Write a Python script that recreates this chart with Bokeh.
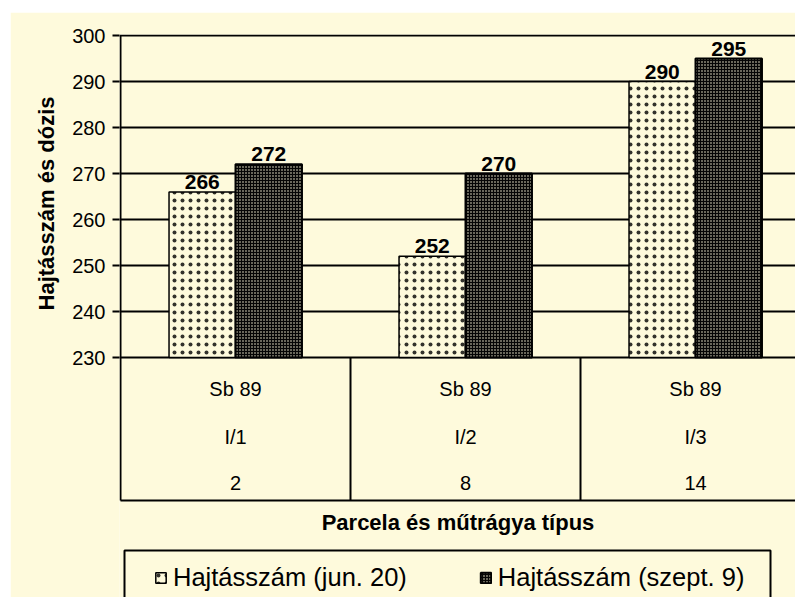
import math
from bokeh.plotting import figure
from bokeh.models import (ColumnDataSource, Range1d, FixedTicker, Legend,
                          LegendItem, Label, Spacer, Title)
from bokeh.layouts import column, row
from bokeh.core.properties import value
from bokeh.embed import file_html
from bokeh.resources import INLINE

# ---------------- data ----------------
parcels = ["Sb 89", "Sb 89", "Sb 89"]
plots = ["I/1", "I/2", "I/3"]
doses = ["2", "8", "14"]
shoots_jun20 = [266, 252, 290]
shoots_sep9 = [272, 270, 295]
series_names = ["Hajtásszám (jun. 20)", "Hajtásszám (szept. 9)"]
y_ticks = [230, 240, 250, 260, 270, 280, 290, 300]
y_axis_title = "Hajtásszám és dózis"
x_axis_title = "Parcela és műtrágya típus"

# ---------------- layout / style ----------------
BG = "#FEFADC"
FONT = "Liberation Sans"
PX_PER_CAT = 230.0
PX_PER_UNIT = 4.6
FIG_W, FIG_H = 785, 585
BORDER_L, BORDER_T = 109, 22
frame_w = FIG_W - BORDER_L
frame_h = FIG_H - BORDER_T
x_start = -1 / PX_PER_CAT
x_end = x_start + frame_w / PX_PER_CAT
y_max = y_ticks[-1]
y_min = y_ticks[0]
y_top = y_max + 1 / PX_PER_UNIT
y_bot = y_top - frame_h / PX_PER_UNIT

n = len(plots)
bar_w = 0.289
centers = [i + 0.5 for i in range(n)]
x_jun = [c - bar_w / 2 for c in centers]
x_sep = [c + bar_w / 2 for c in centers]

table_bottom = y_min - 143 / PX_PER_UNIT
row_y = [y_min - 31 / PX_PER_UNIT, y_min - 79 / PX_PER_UNIT, y_min - 125 / PX_PER_UNIT]

p = figure(width=FIG_W, height=FIG_H,
           x_range=Range1d(x_start, x_end), y_range=Range1d(y_bot, y_top),
           output_backend="svg", toolbar_location=None, x_axis_location=None,
           min_border_left=BORDER_L, min_border_top=BORDER_T,
           min_border_right=0, min_border_bottom=0,
           background_fill_color=BG, border_fill_color=BG)
p.outline_line_color = None
p.xgrid.visible = False
p.ygrid.ticker = FixedTicker(ticks=y_ticks)
p.ygrid.grid_line_color = "black"
p.ygrid.grid_line_width = 2

ax = p.yaxis[0]
ax.ticker = FixedTicker(ticks=y_ticks)
ax.axis_line_color = None
ax.major_tick_in = 0
ax.major_tick_out = 7
ax.major_tick_line_width = 2
ax.major_tick_line_color = "black"
ax.minor_tick_line_color = None
ax.major_label_text_font = FONT
ax.major_label_text_font_size = "20px"
ax.major_label_text_color = "black"
ax.major_label_standoff = 7

src = ColumnDataSource(dict(x_jun=x_jun, x_sep=x_sep, jun=shoots_jun20, sep=shoots_sep9))

r1 = p.vbar(x="x_jun", top="jun", bottom=y_min, width=bar_w, source=src,
            fill_color=BG, line_color="black", line_width=1.5,
            hatch_pattern="dot", hatch_color="black", hatch_scale=8, hatch_weight=0.3,
            hatch_alpha=0.8)
r2 = p.vbar(x="x_sep", top="sep", bottom=y_min, width=bar_w, source=src,
            fill_color="#050505", line_color="black", line_width=2,
            hatch_pattern="dot", hatch_color=BG, hatch_scale=3, hatch_weight=0.6)

# value labels
lab_x = x_jun + x_sep
lab_y = shoots_jun20 + shoots_sep9
lab_bg = [BG if v + 28 / PX_PER_UNIT < y_max else None for v in lab_y]
lab_src = ColumnDataSource(dict(x=lab_x, y=lab_y, t=[str(v) for v in lab_y], bg=lab_bg))
p.text(x="x", y="y", text="t", source=lab_src, text_align="center",
       text_baseline="bottom", y_offset=-3,
       text_font=value(FONT), text_font_style="bold", text_font_size="21px",
       text_color="black", background_fill_color="bg", padding=0)

# table lines
p.segment(x0=[0] + list(range(1, n)), y0=[table_bottom] * n,
          x1=[0] + list(range(1, n)), y1=[y_max] + [y_min] * (n - 1),
          line_color="black", line_width=2)
p.segment(x0=[0], y0=[table_bottom], x1=[x_end + 1], y1=[table_bottom],
          line_color="black", line_width=2)

# table texts
tx, ty, tt = [], [], []
for rw, yy in zip([parcels, plots, doses], row_y):
    for c, s in zip(centers, rw):
        tx.append(c); ty.append(yy); tt.append(s)
p.text(x=tx, y=ty, text=tt, text_align="center", text_baseline="middle",
       text_font=value(FONT), text_font_size="20px", text_color="black")

# legend box
p.quad(left=[4 / PX_PER_CAT], right=[650 / PX_PER_CAT],
       top=[y_min - 193 / PX_PER_UNIT], bottom=[y_bot - 5],
       fill_color=None, line_color="black", line_width=2)

legend = Legend(items=[LegendItem(label=series_names[0], renderers=[r1]),
                       LegendItem(label=series_names[1], renderers=[r2])],
                orientation="horizontal", location=(35, 5), padding=0, margin=0,
                spacing=72, glyph_width=13, glyph_height=13, label_standoff=6,
                label_height=29, label_text_font=FONT, label_text_font_size="25.5px",
                label_text_color="black",
                border_line_color=None, background_fill_alpha=0)
p.add_layout(legend)

ytitle = Title(text=y_axis_title, align="right", offset=62, standoff=21,
               text_font=FONT, text_font_style="bold", text_font_size="22px",
               text_color="black")
p.add_layout(ytitle, "left")

p.add_layout(Label(x=337.5 / PX_PER_CAT, y=y_min - 165 / PX_PER_UNIT, text=x_axis_title,
                   text_align="center", text_baseline="middle", text_font=FONT,
                   text_font_style="bold", text_font_size="22px", text_color="black"))

layout = row(Spacer(width=10, height=FIG_H), column(Spacer(height=12, width=FIG_W), p))
open("out.html", "w").write(file_html(layout, INLINE))
